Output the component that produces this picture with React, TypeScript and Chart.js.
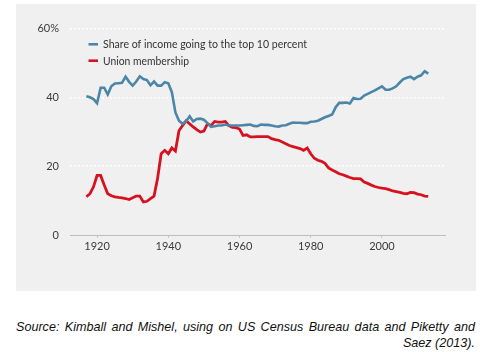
import React, { useEffect, useRef } from "react";
import { Chart, registerables } from "chart.js";

Chart.register(...registerables);

const years: number[] = [
  1917, 1918, 1919, 1920, 1921, 1922, 1923, 1924, 1925, 1926, 1927, 1928, 1929,
  1930, 1931, 1932, 1933, 1934, 1935, 1936, 1937, 1938, 1939, 1940, 1941, 1942,
  1943, 1944, 1945, 1946, 1947, 1948, 1949, 1950, 1951, 1952, 1953, 1954, 1955,
  1956, 1957, 1958, 1959, 1960, 1961, 1962, 1963, 1964, 1965, 1966, 1967, 1968,
  1969, 1970, 1971, 1972, 1973, 1974, 1975, 1976, 1977, 1978, 1979, 1980, 1981,
  1982, 1983, 1984, 1985, 1986, 1987, 1988, 1989, 1990, 1991, 1992, 1993, 1994,
  1995, 1996, 1997, 1998, 1999, 2000, 2001, 2002, 2003, 2004, 2005, 2006, 2007,
  2008, 2009, 2010, 2011, 2012, 2013,
];

const topTenShare: number[] = [
  40.3, 40.0, 39.5, 38.3, 42.8, 42.8, 40.8, 43.2, 44.0, 44.1, 44.2, 46.0, 44.5,
  43.4, 44.6, 46.1, 45.3, 45.0, 43.5, 44.6, 43.4, 43.4, 44.4, 44.1, 41.5, 35.6,
  33.2, 32.3, 33.0, 34.5, 33.0, 33.7, 33.8, 33.5, 32.5, 31.4, 31.6, 31.8, 31.8,
  32.1, 31.8, 31.8, 31.8, 31.8, 31.9, 32.0, 32.1, 31.7, 31.6, 32.1, 32.0, 32.0,
  31.8, 31.6, 31.5, 31.8, 31.9, 32.3, 32.7, 32.6, 32.6, 32.5, 32.5, 32.9, 33.0,
  33.2, 33.7, 34.2, 34.6, 35.0, 37.1, 38.4, 38.4, 38.5, 38.2, 39.8, 39.5, 39.6,
  40.5, 41.0, 41.5, 42.0, 42.6, 43.2, 42.2, 42.2, 42.6, 43.2, 44.3, 45.3, 45.7,
  46.0, 45.3, 46.0, 46.4, 47.6, 46.9,
];

const unionMembership: number[] = [
  11.1, 12.0, 14.0, 17.3, 17.3, 14.5, 12.0, 11.4, 11.1, 10.9, 10.8, 10.6, 10.3,
  10.8, 11.3, 11.3, 9.6, 9.8, 10.6, 11.3, 16.5, 23.6, 24.6, 23.6, 25.3, 24.4,
  30.3, 31.8, 33.2, 32.3, 31.4, 30.6, 29.9, 30.2, 32.3, 31.8, 33.0, 32.8, 32.8,
  33.0, 31.8, 31.3, 31.2, 30.8, 28.9, 29.1, 28.5, 28.5, 28.6, 28.6, 28.6, 28.6,
  28.0, 27.7, 27.5, 27.0, 26.5, 26.0, 25.7, 25.4, 25.1, 24.6, 25.3, 23.6, 22.3,
  21.7, 21.4, 20.8, 19.5, 18.9, 18.4, 17.8, 17.5, 17.1, 16.7, 16.4, 16.4, 16.3,
  15.4, 15.0, 14.5, 14.1, 13.8, 13.6, 13.5, 13.2, 12.8, 12.6, 12.4, 12.1, 12.0,
  12.4, 12.3, 11.9, 11.7, 11.3, 11.2,
];

const seriesLabels: string[] = [
  "Share of income going to the top 10 percent",
  "Union membership",
];

const xTickYears: number[] = [1920, 1940, 1960, 1980, 2000];
const yTickValues: number[] = [0, 20, 40, 60];

const captionLines: string[] = [
  "Source: Kimball and Mishel, using on US Census Bureau data and Piketty and",
  "Saez (2013).",
];

const BLUE = "#4b86a9";
const RED = "#d7121e";
const FONT = "Lato, 'Open Sans', sans-serif";

const legendPlugin = {
  id: "insideLegend",
  afterDraw(chart: any) {
    const { ctx, chartArea } = chart;
    ctx.save();
    chart.data.datasets.forEach((ds: any, i: number) => {
      const y = chartArea.top + 15.8 + i * 16.4;
      ctx.strokeStyle = ds.borderColor;
      ctx.lineWidth = 2.6;
      ctx.beginPath();
      ctx.moveTo(chartArea.left + 18.5, y);
      ctx.lineTo(chartArea.left + 28, y);
      ctx.stroke();
      ctx.fillStyle = "#333333";
      ctx.font = `12px ${FONT}`;
      ctx.textBaseline = "middle";
      ctx.textAlign = "left";
      const maxW = i === 0 ? 204 : 86;
      ctx.fillText(ds.label, chartArea.left + 33, y, maxW);
    });
    ctx.restore();
  },
};

function App() {
  const canvasRef = useRef<HTMLCanvasElement | null>(null);

  useEffect(() => {
    if (!canvasRef.current) return;
    const toPoints = (vals: number[]) =>
      years.map((yr, i) => ({ x: yr, y: vals[i] }));
    const chart = new Chart(canvasRef.current, {
      type: "line",
      data: {
        datasets: [
          {
            label: seriesLabels[0],
            data: toPoints(topTenShare),
            borderColor: BLUE,
            backgroundColor: BLUE,
            borderWidth: 2.6,
            pointRadius: 0,
            tension: 0,
          },
          {
            label: seriesLabels[1],
            data: toPoints(unionMembership),
            borderColor: RED,
            backgroundColor: RED,
            borderWidth: 2.8,
            pointRadius: 0,
            tension: 0,
          },
        ],
      },
      options: {
        animation: false,
        responsive: false,
        maintainAspectRatio: false,
        layout: { padding: { top: 24.5, right: 31, left: 0, bottom: 0 } },
        plugins: {
          legend: { display: false },
          tooltip: { enabled: false },
        },
        scales: {
          x: {
            type: "linear",
            min: 1912.4,
            max: 2017.7,
            afterBuildTicks: (scale: any) => {
              scale.ticks = xTickYears.map((v) => ({ value: v }));
            },
            afterFit: (scale: any) => {
              scale.height = 56;
            },
            border: { display: true, color: "#bdbdbd", width: 1 },
            grid: {
              display: true,
              drawOnChartArea: false,
              drawTicks: true,
              tickLength: 3,
              tickColor: "#c8c8c8",
            },
            ticks: {
              padding: 2,
              color: "#3a3a3a",
              font: { family: FONT, size: 11 },
              maxRotation: 0,
              autoSkip: false,
              callback: (v: any) => String(v),
            },
          },
          y: {
            min: 0,
            max: 60,
            afterBuildTicks: (scale: any) => {
              scale.ticks = yTickValues.map((v) => ({ value: v }));
            },
            afterFit: (scale: any) => {
              scale.width = 54;
            },
            border: { display: false, dash: [2, 2] },
            grid: {
              drawTicks: false,
              lineWidth: 1.5,
              color: (c: any) =>
                c.tick && c.tick.value === 0 ? "rgba(0,0,0,0)" : "#ffffff",
            },
            ticks: {
              padding: 11,
              color: "#3a3a3a",
              font: { family: FONT, size: 11 },
              callback: (v: any) => (v === 60 ? "60%" : String(v)),
            },
          },
        },
      },
      plugins: [legendPlugin],
    } as any);
    return () => chart.destroy();
  }, []);

  const captionStyle: React.CSSProperties = {
    fontFamily: "'Liberation Sans', Arial, sans-serif",
    fontStyle: "italic",
    fontSize: 12.6,
    lineHeight: "16px",
    color: "#111111",
    whiteSpace: "nowrap",
  };

  return (
    <div
      style={{
        position: "absolute",
        left: 0,
        top: 0,
        width: 490,
        height: 352,
        background: "#ffffff",
      }}
    >
      <div
        style={{
          position: "absolute",
          left: 16,
          top: 4,
          width: 460,
          height: 287,
          background: "#f0f0f0",
        }}
      >
        <canvas
          ref={canvasRef}
          width={460}
          height={287}
          style={{ display: "block", width: 460, height: 287 }}
        />
      </div>
      <div style={{ position: "absolute", left: 16, top: 319, width: 459 }}>
        <div
          style={{
            ...captionStyle,
            textAlign: "justify",
            textAlignLast: "justify",
          }}
        >
          {captionLines[0]}
        </div>
        <div style={{ ...captionStyle, textAlign: "right" }}>
          {captionLines[1]}
        </div>
      </div>
    </div>
  );
}

export default App;
